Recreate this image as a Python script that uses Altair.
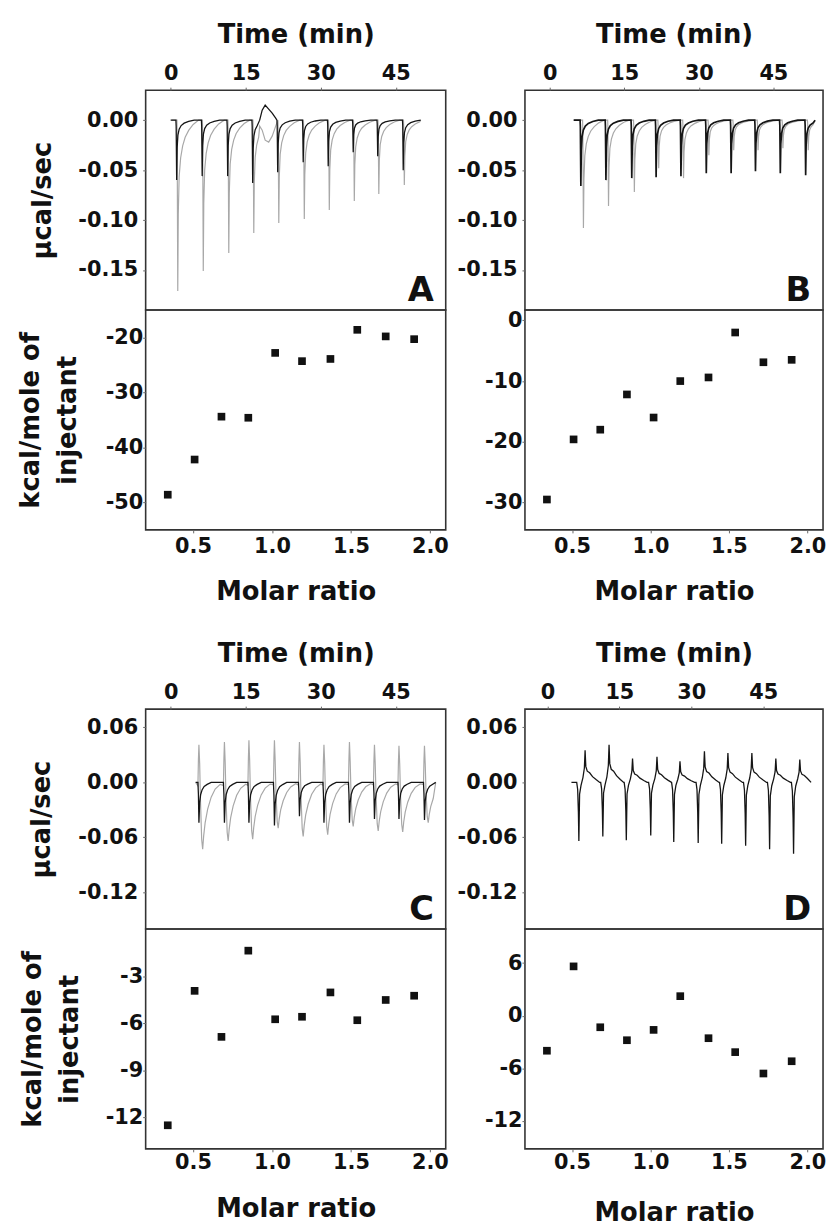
import altair as alt
import pandas as pd

FONT = "DejaVu Sans"
GREY = "#a8a8a8"
BLACK = "#151515"

# ---------------- thermogram data ----------------
TIME_TICKS = [0, 15, 30, 45]

# Panel A
A_inj = [1.1, 6.2, 11.3, 16.3, 21.3, 26.4, 31.4, 36.4, 41.3, 46.4]
A_grey_depth = [-0.171, -0.151, -0.133, -0.113, -0.103, -0.099, -0.090, -0.081, -0.074, -0.065]
A_black_depth = [-0.060, -0.056, -0.056, -0.063, -0.052, -0.042, -0.046, -0.032, -0.036, -0.050]
A_bump_t = [17.8, 18.3, 18.9, 19.6, 20.3, 21.0]
A_bump_black = [0.000, 0.010, 0.015, 0.011, 0.007, 0.002]
A_bump_grey = [-0.006, -0.010, -0.020, -0.022, -0.016, -0.006]

# Panel B
B_inj = [6.15, 11.2, 16.4, 21.3, 26.3, 31.4, 36.4, 41.3, 46.3, 51.4]
B_grey_depth = [-0.108, -0.086, -0.072, -0.048, -0.058, -0.035, -0.030, -0.030, -0.028, -0.030]
B_black_depth = [-0.066, -0.060, -0.058, -0.057, -0.056, -0.053, -0.053, -0.051, -0.053, -0.055]

# Panel C
C_inj = [5.5, 10.6, 15.5, 20.6, 25.6, 30.5, 35.6, 40.6, 45.5, 50.6]
C_grey_up = [0.041, 0.044, 0.046, 0.046, 0.044, 0.041, 0.044, 0.041, 0.040, 0.040]
C_grey_down = [-0.073, -0.064, -0.062, -0.050, -0.059, -0.057, -0.048, -0.053, -0.054, -0.044]
C_black_down = [-0.044, -0.044, -0.044, -0.047, -0.037, -0.044, -0.044, -0.040, -0.040, -0.041]

# Panel D
D_inj = [6.4, 11.4, 16.3, 21.4, 26.2, 31.3, 36.2, 41.2, 46.2, 51.2]
D_down = [-0.064, -0.059, -0.063, -0.058, -0.065, -0.066, -0.067, -0.069, -0.073, -0.078]
D_up = [0.035, 0.041, 0.026, 0.028, 0.023, 0.034, 0.032, 0.032, 0.026, 0.025]

# peak shapes (minutes after injection, fraction of peak)
SLOW_t = [-0.05, 0.0, 0.12, 0.22, 0.4, 0.7, 1.1, 1.6, 2.3, 3.2, 4.3]
SLOW_f = [0.0, 0.1, 1.0, 0.55, 0.33, 0.22, 0.15, 0.10, 0.06, 0.025, 0.0]
FAST_t = [-0.05, 0.0, 0.1, 0.2, 0.35, 0.6, 1.0, 1.6, 2.5, 3.6]
FAST_f = [0.0, 0.1, 1.0, 0.45, 0.25, 0.15, 0.09, 0.05, 0.02, 0.0]
CG_t = [-0.05, 0.05, 0.15, 0.3, 0.45, 0.7, 0.9, 1.1, 1.4, 1.9, 2.6, 3.4, 4.4]
CG_up = [0, 0.6, 1.0, 0.5, 0.1, 0, 0, 0, 0, 0, 0, 0, 0]
CG_dn = [0.05, 0, 0, 0, 0.3, 0.85, 1.0, 0.8, 0.6, 0.4, 0.22, 0.1, 0.03]
CB_t = [-0.05, 0.05, 0.15, 0.3, 0.5, 0.8, 1.2, 1.8, 2.6]
CB_dn = [0.0, 0.3, 1.0, 0.5, 0.3, 0.18, 0.1, 0.05, 0.0]
D_t = [-0.3, -0.1, 0.05, 0.15, 0.3, 0.6, 1.0, 1.3, 1.45, 1.6, 1.9, 2.4, 3.0, 3.8, 4.5]
D_fdn = [0, 0.12, 0.5, 1.0, 0.2, 0.05, 0, 0, 0, 0, 0, 0, 0, 0, 0]
D_fup = [0, 0, 0, 0, 0, 0, 0.15, 0.45, 1.0, 0.5, 0.35, 0.3, 0.18, 0.08, 0.0]

# ---------------- binding heat data ----------------
RATIO = [0.34, 0.51, 0.68, 0.85, 1.02, 1.19, 1.37, 1.54, 1.72, 1.90]
A_heat = [-48.6, -42.2, -34.4, -34.6, -22.8, -24.3, -23.9, -18.6, -19.8, -20.3]
B_heat = [-29.5, -19.6, -18.0, -12.2, -16.0, -10.0, -9.4, -2.0, -6.9, -6.5]
C_heat = [-12.5, -3.94, -6.87, -1.38, -5.75, -5.59, -4.04, -5.81, -4.52, -4.25]
D_heat = [-4.0, 5.63, -1.32, -2.8, -1.62, 2.23, -2.57, -4.16, -6.6, -5.2]


def trace(inj, lag, t_shape, f_dn, dn, t0, t1, f_up=None, up=None, ex_t=(), ex_v=()):
    rows = [(t0, 0.0)]
    n = len(inj)
    for i, ti in enumerate(inj):
        nxt = inj[i + 1] + lag if i + 1 < n else t1 + 10
        for k, dt in enumerate(t_shape):
            t = ti + lag + dt
            if t0 < t < min(nxt - 0.1, t1):
                v = dn[i] * f_dn[k]
                if up is not None:
                    v += up[i] * f_up[k]
                rows.append((t, v))
    if len(ex_t):
        lo, hi = ex_t[0], ex_t[-1]
        rows = [r for r in rows if not (lo <= r[0] <= hi)]
        rows += list(zip(ex_t, ex_v))
    rows.append((t1, 0.0))
    rows.sort()
    return pd.DataFrame(rows, columns=["t", "v"])


def neg_fmt(fmt):
    return f"datum.value < 0 ? '-' + format(-datum.value, '{fmt}') : format(datum.value, '{fmt}')"


W_L, W_R, H = 303, 301, 222


def top_panel(layers, xdom, ydom, yvals, letter, width, ytitle, tpad):
    x = alt.X("t:Q", scale=alt.Scale(domain=xdom, nice=False, zero=False),
              axis=alt.Axis(orient="top", values=TIME_TICKS, title="Time (min)",
                            tickSize=3, labelPadding=4, titlePadding=15))
    y = alt.Y("v:Q", scale=alt.Scale(domain=ydom, nice=False, zero=False),
              axis=alt.Axis(values=yvals, labelExpr=neg_fmt(".2f"), title=ytitle,
                            tickSize=3, labelPadding=5, titlePadding=tpad))
    charts = []
    for df, color, sw in layers:
        charts.append(alt.Chart(df).mark_line(color=color, strokeWidth=sw, clip=True)
                      .encode(x=x, y=y))
    lab = alt.Chart(pd.DataFrame({"lab": [letter]})).mark_text(
        font=FONT, fontWeight="bold", fontSize=34, align="right", baseline="alphabetic",
        color="#111").encode(x=alt.value(width - 12), y=alt.value(H - 9), text="lab:N")
    return alt.layer(*charts, lab).properties(width=width, height=H)


def bottom_panel(heat, ydom, yvals, width, ytitle, lpad, tpad, xtpad):
    df = pd.DataFrame({"r": RATIO, "h": heat})
    return alt.Chart(df).mark_square(size=60, color="#111", opacity=1).encode(
        x=alt.X("r:Q", scale=alt.Scale(domain=[0.2, 2.1], nice=False, zero=False),
                axis=alt.Axis(values=[0.5, 1.0, 1.5, 2.0], format=".1f", title="Molar ratio",
                              tickSize=3, labelPadding=lpad, titlePadding=xtpad)),
        y=alt.Y("h:Q", scale=alt.Scale(domain=ydom, nice=False, zero=False),
                axis=alt.Axis(values=yvals, labelExpr=neg_fmt("d"), title=ytitle,
                              tickSize=3, labelPadding=0, titlePadding=tpad)),
    ).properties(width=width, height=H)


# build traces
A_grey = trace(A_inj, 0.2, SLOW_t, SLOW_f, A_grey_depth, 0.2, 50.0, ex_t=A_bump_t, ex_v=A_bump_grey)
A_black = trace(A_inj, 0.0, FAST_t, FAST_f, A_black_depth, 0.0, 50.0, ex_t=A_bump_t, ex_v=A_bump_black)
B_grey = trace(B_inj, 0.5, SLOW_t, SLOW_f, B_grey_depth, 4.9, 53.4)
B_black = trace(B_inj, 0.0, FAST_t, FAST_f, B_black_depth, 4.8, 53.4)
C_grey = trace(C_inj, 0.0, CG_t, CG_dn, C_grey_down, 5.0, 53.0, f_up=CG_up, up=C_grey_up)
C_black = trace(C_inj, 0.0, CB_t, CB_dn, C_black_down, 5.0, 53.0)
D_black = trace(D_inj, 0.0, D_t, D_fdn, D_down, 5.0, 55.0, f_up=D_fup, up=D_up)

KCAL = ["kcal/mole of", "injectant"]

A_top = top_panel([(A_grey, GREY, 1.2), (A_black, BLACK, 1.3)], [-5, 55], [-0.19, 0.03],
                  [0, -0.05, -0.10, -0.15], "A", W_L, "µcal/sec", 23)
B_top = top_panel([(B_grey, GREY, 1.2), (B_black, BLACK, 1.7)], [-5, 55], [-0.19, 0.03],
                  [0, -0.05, -0.10, -0.15], "B", W_R, "", 23)
C_top = top_panel([(C_grey, GREY, 1.2), (C_black, BLACK, 1.3)], [-5, 55], [-0.16, 0.08],
                  [0.06, 0, -0.06, -0.12], "C", W_L, "µcal/sec", 24)
D_top = top_panel([(D_black, BLACK, 1.3)], [-4.7, 57.5], [-0.16, 0.08],
                  [0.06, 0, -0.06, -0.12], "D", W_R, "", 24)

A_bot = bottom_panel(A_heat, [-55, -15], [-20, -30, -40, -50], W_L, KCAL, 3, 25, 22)
B_bot = bottom_panel(B_heat, [-34.5, 1.7], [0, -10, -20, -30], W_R, "", 3, 25, 22)
C_bot = bottom_panel(C_heat, [-14, 0], [-3, -6, -9, -12], W_L, KCAL, 0, 23, 23)
D_bot = bottom_panel(D_heat, [-15.2, 9.9], [6, 0, -6, -12], W_R, "", 0, 23, 27)


def spacer(width):
    return alt.Chart(pd.DataFrame({"z": [0]})).mark_point(opacity=0).encode(
        x=alt.value(0), y=alt.value(0)
    ).properties(width=width, height=181, view=alt.ViewBackground(strokeOpacity=0))


chart = alt.concat(
    A_top, B_top, A_bot, B_bot, spacer(W_L), spacer(W_R), C_top, D_top, C_bot, D_bot,
    columns=2, spacing={"row": 0, "column": 80}, bounds="flush",
).configure_view(
    stroke="#333", strokeWidth=1.6
).configure_axis(
    labelFont=FONT, labelFontWeight="bold", labelFontSize=21, labelColor="#111",
    titleFont=FONT, titleFontWeight="bold", titleFontSize=26, titleColor="#111",
    titleLineHeight=37, grid=False, domain=False, tickColor="#666", tickWidth=1,
).properties(
    padding={"left": 9, "top": 7, "right": 0, "bottom": 0},
    background="white",
)

chart.save("out.html", embed_options={"renderer": "svg", "actions": False})
